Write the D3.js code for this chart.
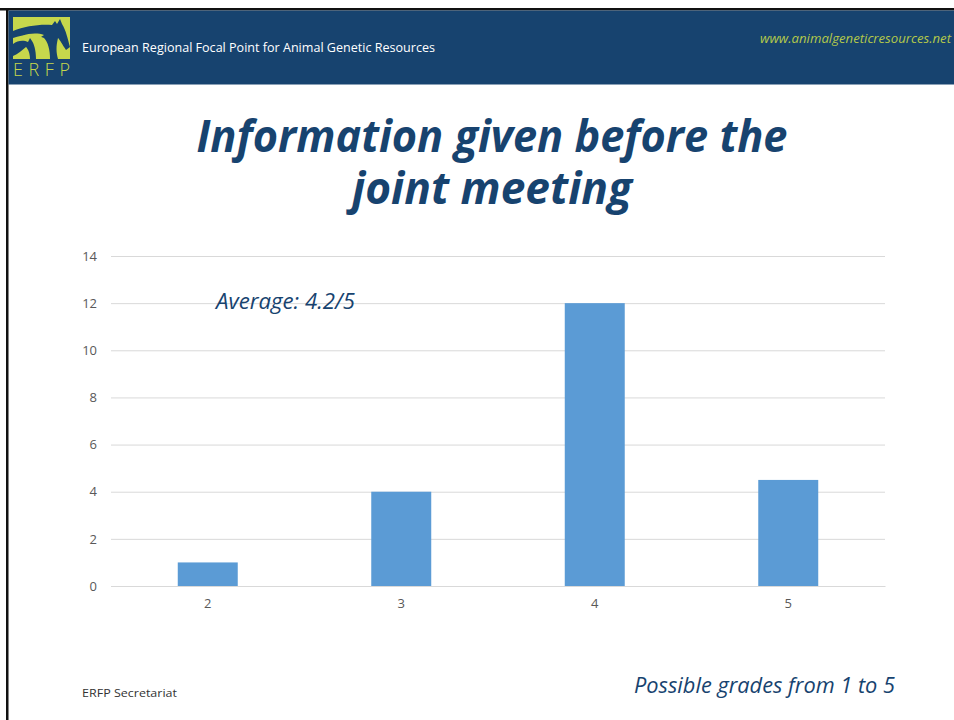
<!DOCTYPE html>
<html>
<head>
<meta charset="utf-8">
<script src="https://cdn.jsdelivr.net/npm/d3@7/dist/d3.min.js"></script>
<style>
  html, body { margin: 0; padding: 0; background: #fff; }
  svg { display: block; }
</style>
</head>
<body>
<svg id="chart" width="954" height="720"></svg>
<script>
// ---- data ----
const categories = ["2", "3", "4", "5"];
const values = [1, 4, 12, 4.5];
const yTicks = [0, 2, 4, 6, 8, 10, 12, 14];
const titleLines = ["Information given before the", "joint meeting"];
const headerText = "European Regional Focal Point for Animal Genetic Resources";
const urlText = "www.animalgeneticresources.net";
const averageText = "Average: 4.2/5";
const gradesText = "Possible grades from 1 to 5";
const footerText = "ERFP Secretariat";

const svg = d3.select("#chart");
const navy = "#17436f";
const lime = "#c6d74c";

// frame
svg.append("rect").attr("x", 0).attr("y", 8).attr("width", 954).attr("height", 2.5).attr("fill", "#111");
svg.append("rect").attr("x", 6).attr("y", 8).attr("width", 2.5).attr("height", 712).attr("fill", "#111");

// header band
svg.append("rect").attr("x", 8.5).attr("y", 10.5).attr("width", 946).attr("height", 74).attr("fill", navy);

// logo
const logo = svg.append("g");
logo.append("rect").attr("x", 13).attr("y", 17).attr("width", 57).attr("height", 42).attr("fill", lime);
logo.append("path").attr("fill", navy)
  .attr("d", "M13,31 C25,26 40,24 52,25 L55,21 L57,24 L60,19 L62,24 C66,30 68,40 70,47 L66,50 C62,44 60,40 58,38 C56,46 56,52 58,59 L50,59 C50,50 48,42 44,38 C36,34 24,34 13,38 Z");
logo.append("path").attr("fill", lime)
  .attr("d", "M22,36 C30,33 38,33 44,35 C40,38 36,40 30,42 C26,44 22,46 20,48 Z");
logo.append("path").attr("fill", navy)
  .attr("d", "M13,44 C18,40 24,40 28,42 L30,38 L32,41 C34,44 36,50 36,59 L30,59 C30,53 28,49 26,47 C22,50 18,54 13,56 Z");
logo.append("text").attr("x", 13).attr("y", 76)
  .attr("font-family", "'Open Sans', sans-serif").attr("font-size", 18).attr("font-weight", 300)
  .attr("fill", lime).attr("textLength", 57).attr("lengthAdjust", "spacing")
  .text("ERFP");

svg.append("text").attr("x", 82).attr("y", 52)
  .attr("font-family", "'Open Sans', sans-serif").attr("font-size", 12.5)
  .attr("fill", "#fff").attr("textLength", 353).attr("lengthAdjust", "spacingAndGlyphs")
  .text(headerText);

svg.append("text").attr("x", 951).attr("y", 43).attr("text-anchor", "end")
  .attr("font-family", "'Open Sans', sans-serif").attr("font-size", 12.5).attr("font-style", "italic")
  .attr("fill", "#b4c94a").attr("textLength", 191).attr("lengthAdjust", "spacingAndGlyphs")
  .text(urlText);

// title
const titleWidths = [591, 280];
svg.selectAll("text.title").data(titleLines).join("text")
  .attr("class", "title")
  .attr("x", 492).attr("y", (d, i) => 152 + i * 52)
  .attr("text-anchor", "middle")
  .attr("font-family", "'Open Sans', sans-serif").attr("font-size", 44)
  .attr("font-weight", 700).attr("font-style", "italic")
  .attr("fill", navy)
  .attr("textLength", (d, i) => titleWidths[i]).attr("lengthAdjust", "spacingAndGlyphs")
  .text(d => d);

// chart
const plot = { left: 111, right: 885, top: 256, bottom: 586 };
const x = d3.scaleBand().domain(categories).range([plot.left, plot.right])
  .paddingInner(0.69).paddingOuter(0.345);
const y = d3.scaleLinear().domain([0, 14]).range([plot.bottom, plot.top]);

const yAxis = svg.append("g").attr("transform", `translate(${plot.left},0)`)
  .call(d3.axisLeft(y).tickValues(yTicks).tickSize(-(plot.right - plot.left)).tickPadding(14).tickFormat(d3.format("d")));
yAxis.select(".domain").remove();
yAxis.selectAll(".tick line").attr("stroke", "#d9d9d9").attr("stroke-width", 1);
yAxis.selectAll(".tick text").attr("fill", "#595959").attr("font-size", 13)
  .attr("font-family", "'Open Sans', sans-serif");

svg.append("g").selectAll("rect").data(values).join("rect")
  .attr("x", (d, i) => x(categories[i]))
  .attr("width", x.bandwidth())
  .attr("y", d => y(d))
  .attr("height", d => y(0) - y(d))
  .attr("fill", "#5b9bd5");

const xAxis = svg.append("g").attr("transform", `translate(0,${plot.bottom})`)
  .call(d3.axisBottom(x).tickSize(0).tickPadding(13));
xAxis.select(".domain").attr("stroke", "#d9d9d9");
xAxis.selectAll(".tick text").attr("fill", "#595959").attr("font-size", 13)
  .attr("font-family", "'Open Sans', sans-serif");

// annotations
svg.append("text").attr("x", 216).attr("y", 309)
  .attr("font-family", "'Open Sans', sans-serif").attr("font-size", 21).attr("font-style", "italic")
  .attr("fill", navy).attr("textLength", 139).attr("lengthAdjust", "spacingAndGlyphs")
  .text(averageText);

svg.append("text").attr("x", 634).attr("y", 693)
  .attr("font-family", "'Open Sans', sans-serif").attr("font-size", 21).attr("font-style", "italic")
  .attr("fill", navy).attr("textLength", 261).attr("lengthAdjust", "spacingAndGlyphs")
  .text(gradesText);

svg.append("text").attr("x", 82).attr("y", 697)
  .attr("font-family", "'Open Sans', sans-serif").attr("font-size", 11.5)
  .attr("fill", "#333").attr("textLength", 95).attr("lengthAdjust", "spacingAndGlyphs")
  .text(footerText);
</script>
</body>
</html>
